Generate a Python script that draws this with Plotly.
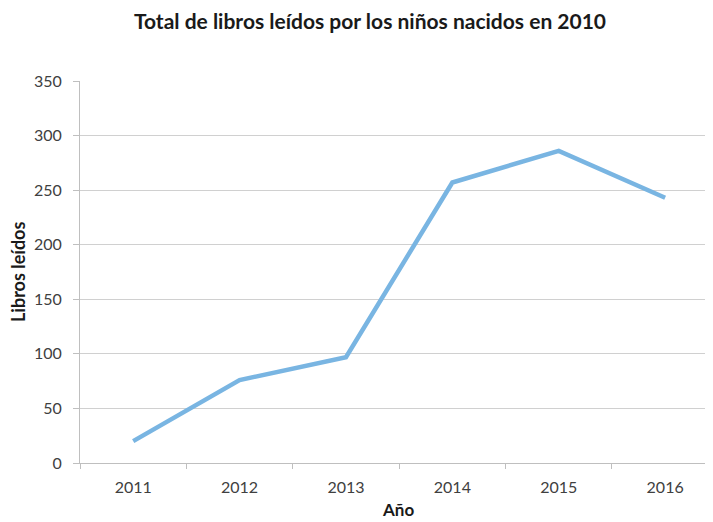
import plotly.graph_objects as go

years = ["2011", "2012", "2013", "2014", "2015", "2016"]
libros = [20, 76, 97, 257, 286, 243]
y_ticks = [0, 50, 100, 150, 200, 250, 300, 350]

FONT = "Lato"

fig = go.Figure()
fig.add_trace(go.Scatter(
    x=years, y=libros, mode="lines",
    line=dict(color="#79b5e2", width=4.5),
    hoverinfo="x+y",
))

fig.update_layout(
    width=705, height=514,
    margin=dict(l=72, r=0, t=73, b=59),
    paper_bgcolor="white", plot_bgcolor="white",
    showlegend=False,
    font=dict(family=FONT, color="#404040", size=16),
    title=dict(
        text="<b>Total de libros leídos por los niños nacidos en 2010</b>",
        x=362 / 705, xanchor="center", y=1 - 14 / 514, yanchor="middle",
        font=dict(family=FONT, size=21, color="#1a1a1a"),
    ),
    xaxis=dict(
        type="category", range=[-0.5, 5.45],
        showgrid=False, showline=True, linecolor="#bfbfbf", linewidth=1,
        ticks="outside", tickson="boundaries", ticklen=5, tickcolor="#bfbfbf",
        tickfont=dict(size=16, color="#404040"),
        ticklabelstandoff=10,
        zeroline=False,
    ),
    yaxis=dict(
        range=[0, 350], tickvals=y_ticks,
        showgrid=True, gridcolor="#d0d0d0", gridwidth=1,
        showline=True, linecolor="#bfbfbf", linewidth=1,
        ticks="outside", ticklen=6, tickcolor="#bfbfbf",
        tickfont=dict(size=16, color="#404040"),
        ticklabelstandoff=8,
        zeroline=False,
    ),
    annotations=[
        dict(text="<b>Libros leídos</b>", xref="paper", yref="paper",
             x=0, y=0.50, xanchor="center", yanchor="middle",
             xshift=-62, textangle=-90, showarrow=False,
             font=dict(family=FONT, size=18, color="#1a1a1a")),
        dict(text="<b>Año</b>", xref="paper", yref="paper",
             x=0.502, y=0, xanchor="center", yanchor="middle",
             yshift=-46, showarrow=False,
             font=dict(family=FONT, size=17, color="#1a1a1a")),
    ],
)

fig.write_html("out.html")
